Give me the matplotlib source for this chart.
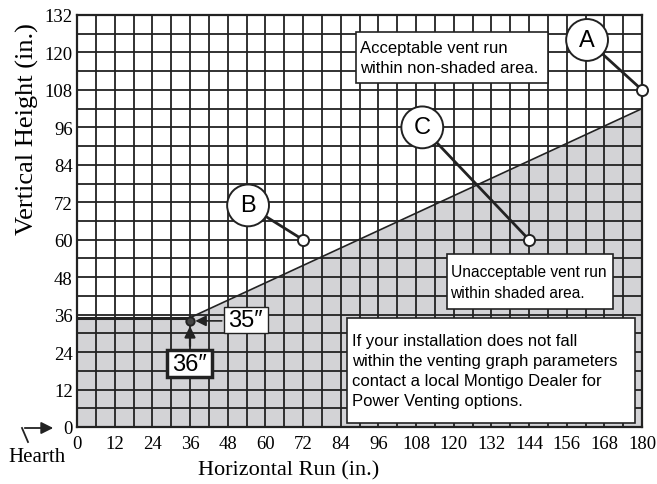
import numpy as np
import matplotlib
matplotlib.use('Agg')
import matplotlib.pyplot as plt
from matplotlib.patches import Rectangle, FancyArrowPatch

# shaded (unacceptable) boundary
shade_x = [0, 36, 180]
shade_y = [35, 35, 102]

# example vent runs
pt_names = ['A', 'B', 'C']
pt_x = [180, 72, 144]
pt_y = [108, 60, 60]
lab_x = [162.5, 54.5, 110]
lab_y = [124, 71, 96]

# minimum point
min_x, min_y = 36, 34
min_labels = ['35\u2033', '36\u2033']

x_ticks = np.arange(0, 181, 12)
y_ticks = np.arange(0, 133, 12)

plt.rcParams['font.family'] = ['Liberation Serif', 'DejaVu Serif']
sans = ['Liberation Sans', 'DejaVu Sans']

fig = plt.figure(figsize=(6.57, 4.85), dpi=100)
ax = fig.add_axes([77 / 657, 57 / 485, 565 / 657, 412 / 485])

ax.set_xlim(0, 180)
ax.set_ylim(0, 132)
ax.set_xticks(x_ticks)
ax.set_yticks(y_ticks)
ax.set_xticks(np.arange(0, 181, 6), minor=True)
ax.set_yticks(np.arange(0, 133, 6), minor=True)
ax.tick_params(which='both', length=0, labelsize=13.5)
ax.tick_params(axis='x', pad=6)
ax.tick_params(axis='y', pad=3)
ax.set_axisbelow(True)
ax.grid(which='both', color='#222222', lw=1.3)
for s in ax.spines.values():
    s.set_linewidth(1.6)
    s.set_color('#222222')

# shaded region
ax.fill_between(shade_x, 0, shade_y, color='#d3d3d6', zorder=0.2, lw=0)
ax.plot(shade_x[1:], shade_y[1:], color='#222222', lw=1.2, zorder=2)
ax.plot(shade_x[:2], shade_y[:2], color='#222222', lw=2.2, zorder=2)

ax.set_xlabel('Horizontal Run (in.)', fontsize=16)
ax.set_ylabel('Vertical Height (in.)', fontsize=19)
ax.xaxis.set_label_coords(0.375, -0.104)
ax.xaxis.label.set_va('center')
ax.yaxis.set_label_coords(-0.087, 0.726)
ax.yaxis.label.set_va('center')

# A, B, C callouts
for name, px, py, lx, ly in zip(pt_names, pt_x, pt_y, lab_x, lab_y):
    ax.plot([lx, px], [ly, py], color='#222222', lw=2, zorder=3, clip_on=False)
    ax.plot(px, py, 'o', ms=8, mfc='white', mec='#222222', mew=1.4, zorder=4, clip_on=False)
    ax.text(lx, ly, name, family=sans, fontsize=17, ha='center', va='center', zorder=5,
            bbox=dict(boxstyle='circle,pad=0.42', fc='white', ec='#222222', lw=1.4))

# minimum point with 35" / 36" callouts
ax.plot(min_x, min_y, 'o', ms=6, mfc='#444444', mec='#222222', mew=1.4, zorder=4)
ax.annotate('', xy=(min_x + 0.8, min_y), xytext=(47, min_y),
            arrowprops=dict(arrowstyle='-|>', color='#222222', lw=1.2, mutation_scale=16), zorder=4)
ax.annotate('', xy=(min_x, min_y - 0.8), xytext=(min_x, 25),
            arrowprops=dict(arrowstyle='-|>', color='#222222', lw=1.6, mutation_scale=16), zorder=4)


def box(x0, x1, y0, y1, lw=1.2):
    ax.add_patch(Rectangle((x0, y0), x1 - x0, y1 - y0, fc='white', ec='#222222', lw=lw, zorder=5))


box(46.8, 60.8, 30, 38.5, lw=1.0)
ax.text(53.8, 34.2, min_labels[0], family=sans, fontsize=17, ha='center', va='center', zorder=6)
box(28.7, 43, 16, 24.7, lw=2.5)
ax.text(35.9, 20.3, min_labels[1], family=sans, fontsize=17, ha='center', va='center', zorder=6)

# text boxes
box(89, 150, 110.3, 126.6)
ax.text(90.2, 118.4, 'Acceptable vent run\nwithin non-shaded area.', family=sans, fontsize=12,
        ha='left', va='center', linespacing=1.35, zorder=6)
box(118, 170.7, 37.8, 55.4)
ax.text(119, 46.5, 'Unacceptable vent run\nwithin shaded area.', family=sans, fontsize=11.2,
        ha='left', va='center', linespacing=1.45, zorder=6)
box(86, 177.7, 1.3, 35)
ax.text(87.6, 18.1, 'If your installation does not fall\nwithin the venting graph parameters\n'
        'contact a local Montigo Dealer for\nPower Venting options.', family=sans, fontsize=12,
        ha='left', va='center', linespacing=1.4, zorder=6)

# hearth marker
fig.text(8 / 657, 1 - 458 / 485, 'Hearth', fontsize=15, ha='left', va='center')
fig.add_artist(plt.Line2D([28 / 657, 22 / 657], [1 - 443 / 485, 1 - 429 / 485],
                          color='#222222', lw=1.3))
fig.add_artist(FancyArrowPatch((22 / 657, 1 - 429 / 485), (56 / 657, 1 - 429 / 485),
                               transform=fig.transFigure, arrowstyle='-|>',
                               mutation_scale=18, color='#222222', lw=1.3))

fig.savefig('out.png', dpi=100)
